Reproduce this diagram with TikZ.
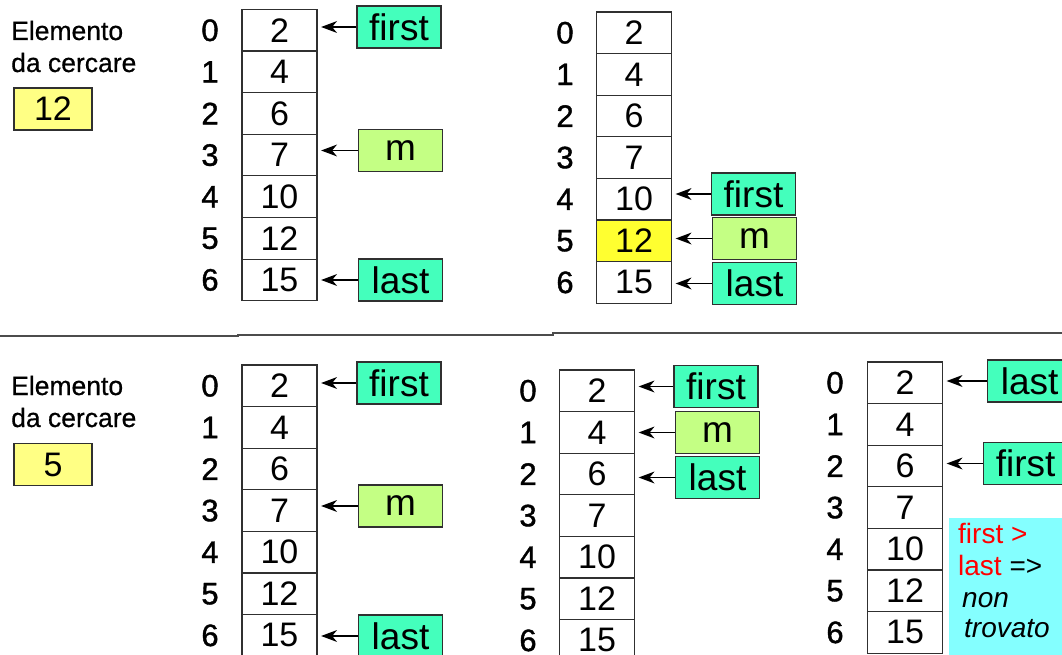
\documentclass[tikz,border=0pt]{standalone}
\usepackage{fontspec}
\setmainfont{Liberation Sans}
\newfontfamily\heavyfont[FakeBold=1.2]{Liberation Sans}
\newfontfamily\midfont[FakeBold=0.6]{Liberation Sans}
\usetikzlibrary{arrows.meta,calc}
\definecolor{ptrgreen}{HTML}{44FFBC}
\definecolor{mgreen}{HTML}{C4FF84}
\definecolor{keyyellow}{HTML}{FFFF84}
\definecolor{hityellow}{HTML}{FFFF30}
\definecolor{notecyan}{HTML}{84FFFF}
\definecolor{edgec}{HTML}{303030}
\newcommand\drawarr[5]{%
  \foreach \v [count=\i from 0] in {2,4,6,7,10,12,15}{%
    \ifnum\i=#5\def\cf{hityellow}\else\def\cf{white}\fi
    \node[cell, fill=\cf] (#1\i) at (#2,{#3+20.8+41.6*\i}) {\v};
    \node[idx] (#1i\i) at (#4,{#3+20.8+41.6*\i}) {\i};
  }%
}
% connector from pointer box #1 to array cell #2, with a filled notched head
\newcommand\pointsto[2]{%
  \draw[link] (#1.west) -- ($(#1.west -| #2.east)+(12,0)$);
  \fill[black] ($(#1.west -| #2.east)+(3.5,0)$) -- ++(16,-6) -- ++(-5,6) -- ++(5,6) -- cycle;
}
\begin{document}
\begin{tikzpicture}[x=1pt,y=-1pt,
  cell/.style={draw=edgec, line width=1.2pt, minimum width=75pt, minimum height=41.6pt, inner sep=0pt, font=\fontsize{34}{40}\selectfont},
  idx/.style={inner sep=0pt, font=\heavyfont\fontsize{31}{36}\selectfont},
  ptr/.style={draw=edgec, line width=1.2pt, minimum width=84pt, minimum height=42pt, inner sep=0pt, font=\fontsize{37}{42}\selectfont},
  firstbox/.style={ptr, fill=ptrgreen},
  lastbox/.style={ptr, fill=ptrgreen},
  mbox/.style={ptr, fill=mgreen},
  keybox/.style={draw=edgec, line width=1.2pt, fill=keyyellow, minimum width=78pt, minimum height=42pt, inner sep=0pt, font=\fontsize{34}{40}\selectfont},
  lbl/.style={inner sep=0pt, anchor=base west, font=\midfont\fontsize{26.5}{32}\selectfont},
  note/.style={inner sep=0pt, anchor=base west, font=\fontsize{28}{32}\selectfont},
  link/.style={line width=1.3pt, draw=black}
]
\useasboundingbox (0,0) rectangle (1062,655);
\clip (0,0) rectangle (1062,655);
\fill[white] (0,0) rectangle (1062,655);

% ---------- top half ----------
\node[lbl] (t1) at (11,40) {Elemento};
\node[lbl] (t2) at (11,72) {da cercare};
\node[keybox] (key1) at (53,109) {12};

\drawarr{A}{279.5}{9.5}{210}{-1}
\node[firstbox] (Af) at (399,27) {first};
\node[mbox] (Am) at (400.5,150.5) {m};
\node[lastbox] (Al) at (400.5,280) {last};
\pointsto{Af}{A0}
\pointsto{Am}{A3}
\pointsto{Al}{A6}

\drawarr{B}{634}{12}{565}{5}
\node[firstbox] (Bf) at (753.5,194) {first};
\node[mbox] (Bm) at (754.5,238.5) {m};
\node[lastbox] (Bl) at (754.5,283.5) {last};
\pointsto{Bf}{B4}
\pointsto{Bm}{B5}
\pointsto{Bl}{B6}

% ---------- separator ----------
\coordinate (s0) at (0,336);
\coordinate (s1) at (1062,333);
\draw[line width=2pt, draw=black!70] (s0) -- (238,336) -- (238,334.5) -- (553,334.5) -- (553,333) -- (s1);

% ---------- bottom half ----------
\node[lbl] (b1) at (11,395) {Elemento};
\node[lbl] (b2) at (11,427) {da cercare};
\node[keybox] (key2) at (53,464.5) {5};

\drawarr{C}{279.5}{365}{210}{-1}
\node[firstbox] (Cf) at (399,383) {first};
\node[mbox] (Cm) at (400.5,506) {m};
\node[lastbox] (Cl) at (400.5,636) {last};
\pointsto{Cf}{C0}
\pointsto{Cm}{C3}
\pointsto{Cl}{C6}

\drawarr{D}{597}{370}{528}{-1}
\node[firstbox] (Df) at (716,386.5) {first};
\node[mbox] (Dm) at (717.5,432.5) {m};
\node[lastbox] (Dl) at (717.5,477.5) {last};
\pointsto{Df}{D0}
\pointsto{Dm}{D1}
\pointsto{Dl}{D2}

\drawarr{E}{905}{362}{835}{-1}
\node[lastbox, anchor=west] (El) at (987,381) {last};
\node[firstbox, anchor=west] (Ef) at (983,463.5) {first};
\pointsto{El}{E0}
\pointsto{Ef}{E2}

\node[fill=notecyan, inner sep=0pt, minimum width=130pt, minimum height=150pt, anchor=north west] (nb) at (949,518) {};
\node[note, text=red] (n1) at (958,543) {first >};
\node[note] (n2) at (958,575) {\textcolor{red}{last} =>};
\node[note, font=\fontsize{28}{32}\selectfont\itshape] (n3) at (962,607) {non};
\node[note, font=\fontsize{28}{32}\selectfont\itshape] (n4) at (964,637) {trovato};
\end{tikzpicture}
\end{document}
